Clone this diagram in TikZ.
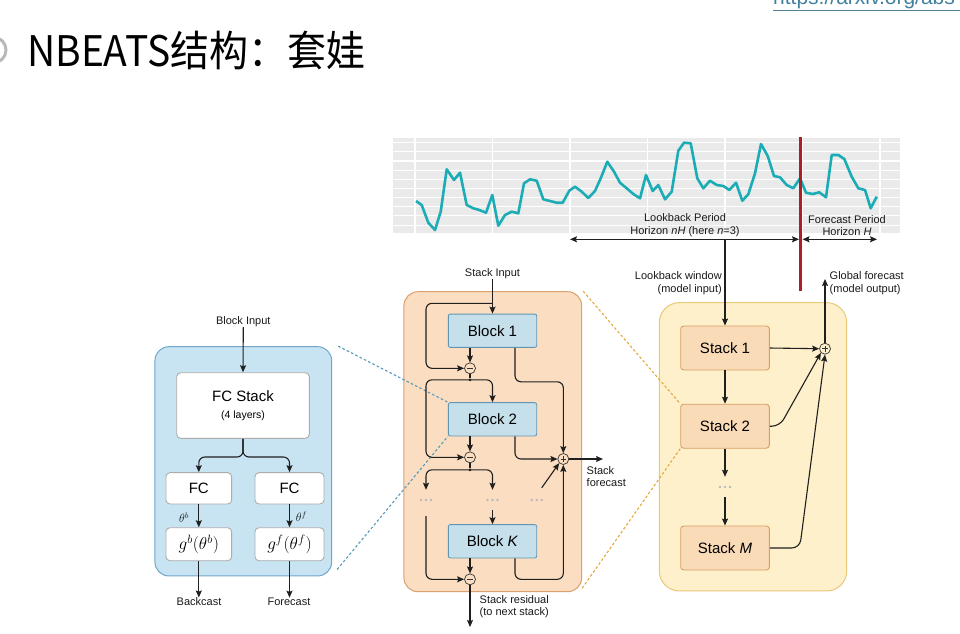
\RequirePackage{fix-cm}
\documentclass[tikz,border=0pt]{standalone}
\usepackage{fontspec}
\setmainfont{Liberation Sans}
\newfontfamily\cjkfont{Noto Sans CJK SC}
\usetikzlibrary{arrows.meta,calc}

\definecolor{chartbg}{RGB}{234,234,234}
\definecolor{seriescol}{RGB}{28,172,182}
\definecolor{splitred}{RGB}{172,32,36}
\definecolor{leftfill}{RGB}{200,228,243}
\definecolor{leftline}{RGB}{112,166,200}
\definecolor{blockfill}{RGB}{197,224,235}
\definecolor{blockline}{RGB}{98,150,178}
\definecolor{midfill}{RGB}{251,222,193}
\definecolor{midline}{RGB}{218,160,110}
\definecolor{stackfill}{RGB}{250,219,184}
\definecolor{stackline}{RGB}{214,160,100}
\definecolor{rightfill}{RGB}{253,240,202}
\definecolor{rightline}{RGB}{234,200,122}
\definecolor{bluedash}{RGB}{88,152,186}
\definecolor{orangedash}{RGB}{228,168,60}
\definecolor{urlcol}{RGB}{66,128,158}

\tikzset{
  lbl/.style={font=\fontsize{11}{12.8}\selectfont, inner sep=0pt, align=center, text=black!90},
  ln/.style={draw=black!88, line width=1.1pt},
  arr/.style={ln, -{Stealth[length=7pt,width=6pt,inset=1.2pt]}},
  rc/.style={rounded corners=6pt},
  blockbox/.style={draw=blockline, fill=blockfill, line width=0.9pt, rounded corners=2pt,
    minimum width=88.4pt, minimum height=33.3pt, inner sep=0pt, font=\fontsize{15}{18}\selectfont},
  stackbox/.style={draw=stackline, fill=stackfill, line width=0.9pt, rounded corners=3pt,
    minimum width=88.6pt, minimum height=44pt, inner sep=0pt, font=\fontsize{15}{18}\selectfont},
  whitebox/.style={draw=gray!65, fill=white, line width=0.9pt, rounded corners=4pt,
    inner sep=0pt, font=\fontsize{15}{18}\selectfont},
  panel/.style={line width=1pt, rounded corners=14pt, inner sep=0pt},
  opcirc/.style={circle, draw=black!80, line width=0.7pt, minimum size=11pt, inner sep=0pt},
  minusop/.style={opcirc, path picture={\draw[line width=0.8pt]
      ($(path picture bounding box.center)+(-2.8pt,0)$) -- ++(5.6pt,0);}},
  plusop/.style={opcirc, path picture={\draw[line width=0.8pt]
      ($(path picture bounding box.center)+(-2.8pt,0)$) -- ++(5.6pt,0)
      ($(path picture bounding box.center)+(0,-2.8pt)$) -- ++(0,5.6pt);}},
  dotrow/.style={minimum width=18pt, minimum height=20pt, inner sep=0pt,
    path picture={\foreach \i in {-1,0,1}
      \fill[gray!55] ($(path picture bounding box.center)+(\i*5pt,0)$) circle (1.4pt);}},
  jdot/.style={circle, fill=black!88, minimum size=3pt, inner sep=0pt},
  bluedashed/.style={draw=bluedash, line width=1.1pt, dash pattern=on 2.6pt off 2.2pt},
  orangedashed/.style={draw=orangedash, line width=1.1pt, dash pattern=on 2.6pt off 2.2pt},
}

\begin{document}
\begin{tikzpicture}[x=1pt,y=-1pt]
\useasboundingbox (0,0) rectangle (960,633);
\clip (0,0) rectangle (960,633);

% ---------- header ----------
\draw[gray!55, line width=3pt] (-7,50) circle (13);
\node[anchor=west, inner sep=0pt, font=\cjkfont\fontsize{39}{44}\selectfont, yscale=1.08] (title) at (27,50) {NBEATS结构：套娃};
\node[anchor=base west, inner sep=0pt, text=urlcol, font=\fontsize{21}{24}\selectfont] (url) at (773,4) {https://arxiv.org/abs};
\draw[urlcol!70!gray, line width=1.2pt] (url.base west |- 0,10.5) -- (960,10.5);

% ---------- time series ----------
\fill[chartbg] (393,138) rectangle (900,233);
\foreach \y in {142.7,151.85,161,170.15,179.3,188.45,197.6,206.75,215.9,225.05}
  \draw[white, line width=1.1pt] (393,\y) -- (900,\y);
\foreach \x in {415,492.5,570,647.5,725,802.5,880}
  \draw[white, line width=1.2pt] (\x,138) -- (\x,233);
\draw[seriescol, line width=2.6pt, line join=round] plot coordinates {
 (416,201) (421.7,205) (428.3,222.7) (435,230) (440.7,211.7) (446.7,169.3) (454,180)
 (460,172.7) (466.7,205) (473.3,208.3) (479.3,210) (486,212.7) (492.3,195) (498.3,225.7)
 (505,215) (511.7,211.7) (518.3,213.3) (524,183.3) (530,179.3) (536.7,180.7) (543.3,199.3)
 (550,201) (556.7,202.7) (562.7,202.7) (569.3,190.7) (575,186.7) (581.7,191.7) (588.3,198)
 (595,191) (600.7,178.3) (607.3,161.7) (614,171.7) (620,182.7) (626.7,188.3) (633.3,194)
 (640,198.3) (646,175) (652.7,191) (658.3,185) (665,199.3) (671.7,191.7) (678.3,150.7)
 (684,142.7) (690.7,143.3) (697.3,178.3) (703.3,188.3) (710,180.7) (716.7,185) (723.3,186)
 (729.3,190) (736,182.7) (742.3,200.7) (748.3,194.3) (755,173.3) (761,144) (767.7,156)
 (774,176) (780,177.3) (786.7,185) (793.3,188.3) (800,178.3) (806,192.7) (812.7,194)
 (819.3,192.3) (826,197.3) (831.7,155) (838.3,155) (844.3,159) (851.7,176.7) (858.3,188.3)
 (865,190) (870.7,208.3) (876.7,196.7)};

\node[lbl] (lbtxt) at (685,225.5) {Lookback Period\\Horizon \textit{nH} (here \textit{n}=3)};
\node[lbl] (fctxt) at (847,225.5) {Forecast Period\\Horizon \textit{H}};
\coordinate (lbL) at (570,239.3);
\coordinate (lbR) at (799,239.3);
\coordinate (fcL) at (802.5,239.3);
\coordinate (fcR) at (877,239.3);
\draw[ln, {Stealth[length=7pt,width=6pt,inset=1.2pt]}-{Stealth[length=7pt,width=6pt,inset=1.2pt]}] (lbL) -- (lbR);
\draw[ln, {Stealth[length=7pt,width=6pt,inset=1.2pt]}-{Stealth[length=7pt,width=6pt,inset=1.2pt]}] (fcL) -- (fcR);
\draw[splitred, line width=2.6pt] (800.7,137) -- (800.7,291);

% ---------- panels ----------
\node[panel, draw=leftline, fill=leftfill, minimum width=176.7pt, minimum height=229.3pt] (bpanel) at (243.3,461.3) {};
\node[panel, draw=midline, fill=midfill, minimum width=177.7pt, minimum height=300pt] (spanel) at (492.8,441.7) {};
\node[panel, draw=rightline, fill=rightfill, minimum width=187.4pt, minimum height=288.3pt, rounded corners=20pt] (mpanel) at (753,446.8) {};

% ---------- zoom guides ----------
\node[blockbox] (b2) at (492.5,419.3) {Block 2};
\node[stackbox] (s2) at (725,426.2) {Stack 2};
\draw[bluedashed] ([xshift=6pt]bpanel.north east) -- (b2.north west);
\draw[bluedashed] ([xshift=5pt,yshift=7pt]bpanel.south east) -- (b2.south west);
\draw[orangedashed] ([xshift=1pt]spanel.north east) -- (s2.north west);
\draw[orangedashed] ([yshift=4pt]spanel.south east) -- (s2.south west);

% ---------- single block ----------
\node[lbl] (bin) at (243.3,321.7) {Block Input};
\node[whitebox, minimum width=132.6pt, minimum height=65.6pt, align=center] (fcs) at (243,405.5)
  {FC Stack\\[-1pt]{\fontsize{10.5}{12}\selectfont (4 layers)}};
\node[whitebox, minimum width=65.7pt, minimum height=31.3pt] (fcb) at (198.8,488.3) {FC};
\node[whitebox, minimum width=69pt, minimum height=31.3pt] (fcf) at (289.5,488.3) {FC};
\node[whitebox, minimum width=65.7pt, minimum height=33pt, font=\fontsize{17.28}{20}\selectfont] (gb) at (198.8,544.2) {$g^b(\theta^b)$};
\node[whitebox, minimum width=69pt, minimum height=33pt, font=\fontsize{17.28}{20}\selectfont] (gf) at (289.5,544.2) {$g^f(\theta^f)$};
\node[lbl, font=\fontsize{12}{14}\selectfont] (thb) at (184,517.5) {$\theta^b$};
\node[lbl, font=\fontsize{12}{14}\selectfont] (thf) at (301.5,517) {$\theta^f$};
\node[lbl] (bcast) at (199,601.7) {Backcast};
\node[lbl] (fcast) at (289,601.7) {Forecast};
\coordinate (fork) at (243,457);
\draw[arr] (bin.south) -- (fcs.north);
\draw[arr, rc] (fcs.south) -- (fork) -| (fcb.north);
\draw[arr, rc] (fcs.south) -- (fork) -| (fcf.north);
\draw[arr] (fcb.south) -- (gb.north);
\draw[arr] (fcf.south) -- (gf.north);
\draw[arr] (gb.south) -- (gb.south |- bcast.north);
\draw[arr] (gf.south) -- (gf.south |- fcast.north);

% ---------- stack of blocks ----------
\node[lbl] (sin) at (492.5,274) {Stack Input};
\node[blockbox] (b1) at (492.5,330.7) {Block 1};
\node[blockbox] (bK) at (492.5,541.3) {Block \textit{K}};
\node[minusop, fill=midfill] (m1) at (470,368.3) {};
\node[minusop, fill=midfill] (m2) at (470,457.3) {};
\node[minusop, fill=midfill] (m3) at (470,579.3) {};
\node[plusop, fill=midfill] (p) at (563.3,459) {};
\node[jdot] (d1) at (470,379.8) {};
\node[jdot] (d2) at (470,469.8) {};
\node[dotrow] (dl) at (426,500) {};
\node[dotrow] (dm) at (492.5,500) {};
\node[dotrow] (dr) at (536.7,500) {};
\coordinate (railL) at (426,0);
\coordinate (railF) at (515,0);
\coordinate (j0) at (492.5,303.3);
\coordinate (resid) at (470,627);
\coordinate (sfc) at (603,459);
\node[lbl, anchor=north west, align=left] (restxt) at (479.5,595) {Stack residual\\(to next stack)};
\node[lbl, anchor=north west, align=left] (sftxt) at (586.5,466) {Stack\\forecast};

\draw[arr] (sin.south) -- (b1.north);
\draw[arr, rc] (j0) -- (j0 -| railL) -- (m1 -| railL) -- (m1.west);
\draw[arr] (b1.south -| m1) -- (m1.north);
\draw[ln] (m1.south) -- (d1);
\draw[arr, rc] (d1.center) -| (b2.north);
\draw[arr, rc] (d1.center) -- (d1 -| railL) -- (m2 -| railL) -- (m2.west);
\draw[arr] (b2.south -| m2) -- (m2.north);
\draw[ln] (m2.south) -- (d2);
\draw[arr, rc] (d2.center) -| (dl.north);
\draw[arr, rc] (d2.center) -| (dm.north);
\draw[arr] (dm.south) -- (bK.north);
\draw[arr, rc] ([yshift=-6pt]dl.south) -- (m3 -| dl) -- (m3.west);
\draw[arr] (bK.south -| m3) -- (m3.north);
\draw[arr] (m3.south) -- (resid);
\draw[arr, rc] (b1.south -| railF) -- ++(0,34) -| (p.north);
\draw[arr, rc] (b2.south -| railF) |- (p.west);
\draw[arr, rc] (bK.south -| railF) -- (m3 -| railF) -| (p.south);
\draw[arr] ([xshift=5pt,yshift=2pt]dr.north) -- (p.south west);
\draw[arr] (p.east) -- (sfc);

% ---------- stack of stacks ----------
\node[stackbox] (s1) at (725,348) {Stack 1};
\node[stackbox] (sM) at (725,548) {Stack \textit{M}};
\node[dotrow] (ds) at (725,487) {};
\node[plusop, fill=rightfill] (p2) at (825,348.7) {};
\node[lbl, anchor=east, align=right] (lbw) at (722,283.5) {Lookback window\\(model input)};
\node[lbl, anchor=west, align=left] (gfc) at (829.5,283.5) {Global forecast\\(model output)};
\coordinate (gtop) at (825,279);
\draw[arr] (s1.north |- lbL) -- (s1.north);
\draw[arr] (s1.south) -- (s2.north);
\draw[arr] (s2.south) -- (ds.north);
\draw[arr] (ds.south) -- (sM.north);
\draw[arr] (s1.east) -- (p2.west);
\draw[arr, rounded corners=8pt] (s2.east) -- ++(10,0) -- (p2.south west);
\draw[arr, rounded corners=8pt] (sM.east) -- ++(30,0) -- (p2.south);
\draw[arr] (p2.north) -- (gtop);
\end{tikzpicture}
\end{document}
